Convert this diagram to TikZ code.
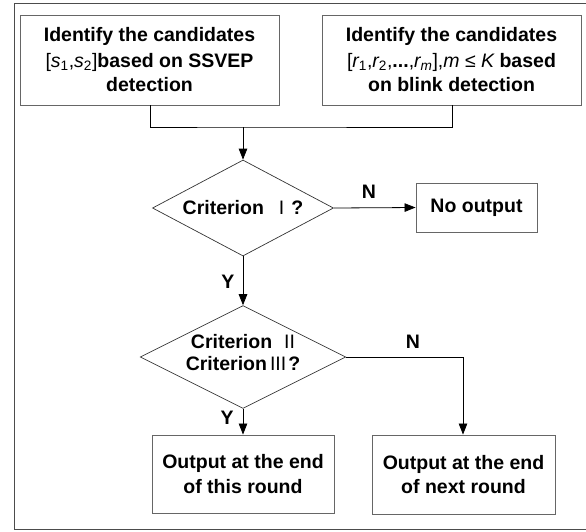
\documentclass[tikz,border=0pt]{standalone}
\usepackage{fontspec}
\setmainfont{Liberation Sans}
\usetikzlibrary{shapes.geometric,arrows.meta}
\newcommand\mi[1]{{\mdseries\itshape #1}}
\newcommand\sbs[1]{\textsubscript{\mdseries\upshape #1}}
\newcommand\rg[1]{{\mdseries #1}}
\begin{document}
\begin{tikzpicture}[x=1pt,y=-1pt,
  font=\fontsize{19.5}{24.5}\selectfont\bfseries,
  box/.style={draw=black!60,line width=0.9pt,align=center,inner sep=0pt},
  dia/.style={draw=black!80,line width=0.7pt,diamond,align=center,inner sep=0pt,shape aspect=2},
  conn/.style={draw=black,line width=0.8pt},
  arr/.style={conn,-{Triangle[length=11pt,width=8.5pt]}},
  lbl/.style={inner sep=0pt}]
\useasboundingbox (0,0) rectangle (586,531);
\draw[black!70,line width=1pt] (14,3) rectangle (600,529);
\node[box,minimum width=259,minimum height=90] (b1) at (149.5,60)
  {Identify the candidates\\[1pt] \rg{[}\mi{s}\sbs{1}\rg{,}\mi{s}\sbs{2}\rg{]}based on SSVEP\\ detection};
\node[box,minimum width=259,minimum height=90] (b2) at (451.5,60)
  {Identify the candidates\\[1pt] \rg{[}\mi{r}\sbs{1}\rg{,}\mi{r}\sbs{2}\rg{,}...\rg{,}\mi{r}\textsubscript{\mi{m}}\rg{],}\mi{m} \rg{≤} \mi{K} based\\ on blink detection};
\coordinate (j) at (243,127);
\node[dia,minimum width=181,minimum height=96] (d1) at (243,208) {Criterion\hspace{15pt}\rg{I}\hspace{7pt}?};
\node[box,minimum width=121,minimum height=49] (no) at (476.5,207.5) {No output};
\node[dia,minimum width=199,minimum height=101] (d2) at (243,357) {Criterion\hspace{12pt}\rg{II}\\[-2pt] Criterion\hspace{3pt}\rg{III}\hspace{2pt}?\rule[-9pt]{0pt}{1pt}};
\node[box,minimum width=182,minimum height=78] (b3) at (243,474) {Output at the end\\ of this round};
\node[box,minimum width=183,minimum height=79] (b4) at (463.5,474.5) {Output at the end\\ of next round};
\coordinate (c2) at (463,357);
\draw[conn] (b1.south -| 150,0) |- (j) -| (b2.south -| 452,0);
\draw[arr] (j) -- (d1.north);
\draw[arr] (d1.east) -- (no.west);
\draw[arr] (d1.south) -- (d2.north);
\draw[arr] (d2.east) -- (c2) -- (c2 |- b4.north);
\draw[arr] (d2.south) -- (b3.north);
\node[lbl] (n1) at (369,192) {N};
\node[lbl] (y1) at (228,282) {Y};
\node[lbl] (n2) at (413,342) {N};
\node[lbl] (y2) at (227,418) {Y};
\end{tikzpicture}
\end{document}
